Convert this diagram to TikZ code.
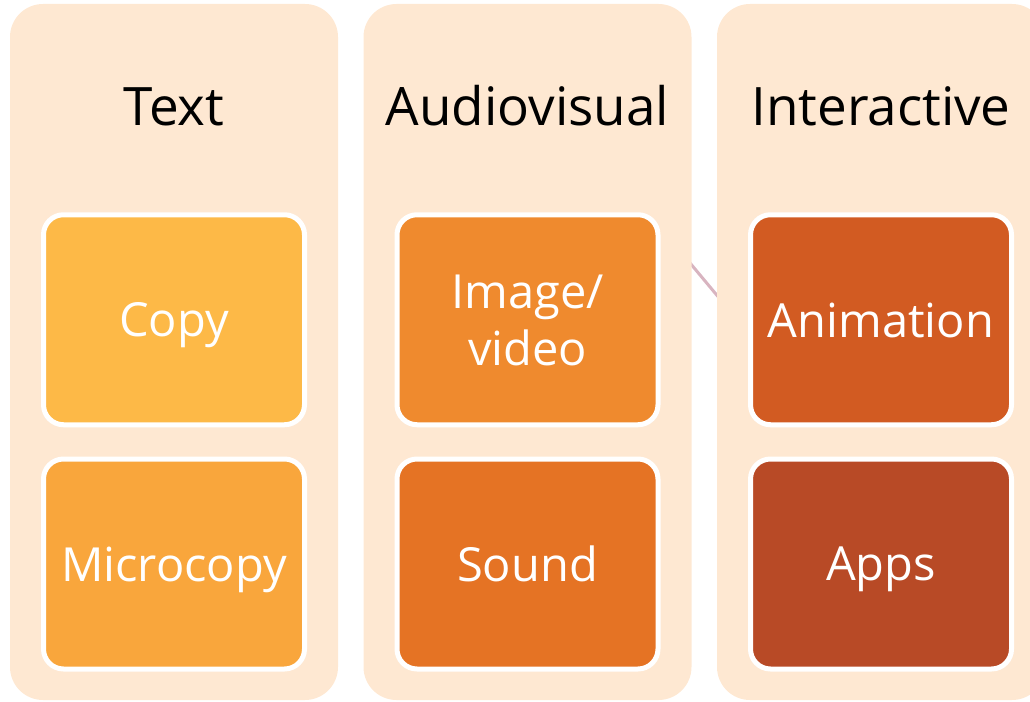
\documentclass[tikz,border=0pt]{standalone}
\usepackage{fontspec}
\setmainfont{Open Sans}
\usepackage{xcolor}
\usetikzlibrary{backgrounds}

\definecolor{lanebg}{RGB}{254,232,210}
\definecolor{linkpink}{RGB}{216,180,192}
\definecolor{copyc}{RGB}{253,185,71}
\definecolor{microc}{RGB}{249,166,60}
\definecolor{imagec}{RGB}{239,138,46}
\definecolor{soundc}{RGB}{229,115,36}
\definecolor{animc}{RGB}{210,91,34}
\definecolor{appsc}{RGB}{184,74,38}

\begin{document}
\begin{tikzpicture}[x=1pt,y=-1pt]

\tikzset{lane/.style={
  rectangle,
  inner sep=0pt,
  rounded corners=33pt,
  fill=lanebg,
  minimum width=328pt,
  minimum height=696pt
  },
  heading/.style={
  anchor=base,
  inner sep=0pt,
  font=\fontsize{53}{60}\selectfont
  },
  item/.style={
  rectangle,
  inner sep=0pt,
  rounded corners=20pt,
  draw=white, line width=5pt,
  text=white,
  align=center,
  text depth=0pt,
  minimum width=261pt,
  minimum height=210pt,
  font=\fontsize{47}{57}\selectfont
  }}

\useasboundingbox (0,0) rectangle (1030,701);

\node[heading] (textT) at (174,125) {Text};
\node[heading] (audioT) at (527.5,125) {Audiovisual};
\node[heading] (interT) at (881,125) {Interactive};

\node[item, fill=copyc] (copy) at (174,319.75) {Copy};
\node[item, fill=microc] (micro) at (174,564) {Microcopy};
\node[item, fill=imagec] (image) at (527.5,319.75) {Image/\\video};
\node[item, fill=soundc] (sound) at (527.5,564) {Sound};
\node[item, fill=animc] (anim) at (881,319.75) {Animation};
\node[item, fill=appsc] (apps) at (881,564) {Apps};

\coordinate (linkA) at (600,155);
\coordinate (linkB) at (800,395);

\begin{scope}[on background layer]
\draw[linkpink, line width=3pt] (linkA) -- (linkB);
\node[lane] (textL) at (174,352) {};
\node[lane] (audioL) at (527.5,352) {};
\node[lane] (interL) at (881,352) {};
\end{scope}
\end{tikzpicture}
\end{document}
